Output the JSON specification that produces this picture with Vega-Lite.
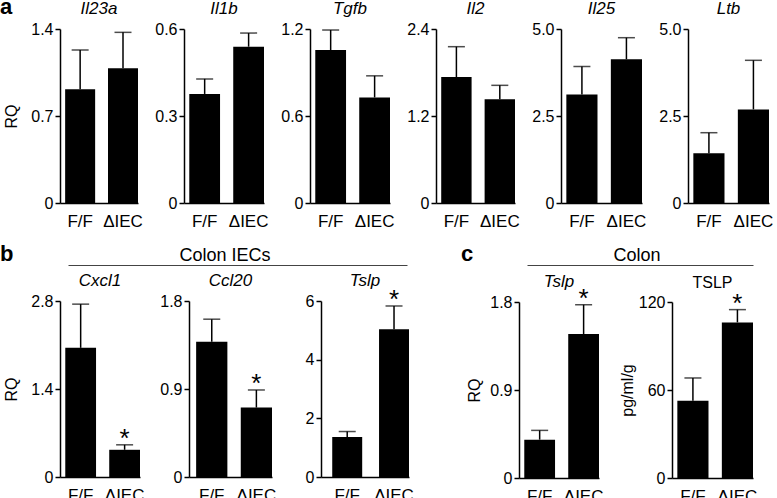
{
 "$schema": "https://vega.github.io/schema/vega-lite/v6.json",
 "padding": {"left": 0, "top": -4, "right": 0, "bottom": 0},
 "background": "white",
 "data": {"values": [
  {"panel":"Il23a","group":"F/F","mean":0.915,"upper":1.231,"star":""},
  {"panel":"Il23a","group":"ΔIEC","mean":1.084,"upper":1.373,"star":""},
  {"panel":"Il1b","group":"F/F","mean":0.376,"upper":0.428,"star":""},
  {"panel":"Il1b","group":"ΔIEC","mean":0.539,"upper":0.586,"star":""},
  {"panel":"Tgfb","group":"F/F","mean":1.055,"upper":1.193,"star":""},
  {"panel":"Tgfb","group":"ΔIEC","mean":0.728,"upper":0.877,"star":""},
  {"panel":"Il2","group":"F/F","mean":1.738,"upper":2.156,"star":""},
  {"panel":"Il2","group":"ΔIEC","mean":1.43,"upper":1.623,"star":""},
  {"panel":"Il25","group":"F/F","mean":3.12,"upper":3.92,"star":""},
  {"panel":"Il25","group":"ΔIEC","mean":4.13,"upper":4.75,"star":""},
  {"panel":"Ltb","group":"F/F","mean":1.43,"upper":2.02,"star":""},
  {"panel":"Ltb","group":"ΔIEC","mean":2.69,"upper":4.1,"star":""},
  {"panel":"Cxcl1","group":"F/F","mean":2.055,"upper":2.75,"star":""},
  {"panel":"Cxcl1","group":"ΔIEC","mean":0.433,"upper":0.512,"star":"*"},
  {"panel":"Ccl20","group":"F/F","mean":1.382,"upper":1.614,"star":""},
  {"panel":"Ccl20","group":"ΔIEC","mean":0.71,"upper":0.89,"star":"*"},
  {"panel":"Tslp_b","group":"F/F","mean":1.36,"upper":1.55,"star":""},
  {"panel":"Tslp_b","group":"ΔIEC","mean":5.04,"upper":5.83,"star":"*"},
  {"panel":"Tslp_c","group":"F/F","mean":0.392,"upper":0.487,"star":""},
  {"panel":"Tslp_c","group":"ΔIEC","mean":1.473,"upper":1.772,"star":"*"},
  {"panel":"TSLP","group":"F/F","mean":52.7,"upper":68.2,"star":""},
  {"panel":"TSLP","group":"ΔIEC","mean":106.1,"upper":114.8,"star":"*"}
 ]},
 "bounds": "full",
 "spacing": 14,
 "vconcat": [
  {
   "bounds": "flush",
   "spacing": 46,
   "title": {"text": "a", "anchor": "start", "fontSize": 22, "fontWeight": "bold", "dx": -60, "dy": 19, "offset": 0},
   "hconcat": [
    {"width":78,"height":174,"title":{"text":"Il23a","fontStyle":"italic"},
     "transform":[{"filter":"datum.panel === 'Il23a'"}],
     "encoding":{"x":{"field":"group","type":"nominal","sort":["F/F","ΔIEC"],"title":null,"scale":{"paddingInner":0.3,"paddingOuter":0.06,"align":1}}},
     "layer":[
      {"mark":"bar","encoding":{"y":{"field":"mean","type":"quantitative","title":"RQ","scale":{"domain":[0,1.4],"nice":false},"axis":{"values":[0,0.7,1.4],"labelExpr":"datum.value === 0 ? '0' : format(datum.value, '.1f')"}}}},
      {"mark":"rule","encoding":{"y":{"field":"mean","type":"quantitative","title":"RQ"},"y2":{"field":"upper"}}},
      {"mark":{"type":"tick","size":17},"encoding":{"y":{"field":"upper","type":"quantitative","title":"RQ"}}}
     ]},
    {"width":80,"height":174,"title":{"text":"Il1b","fontStyle":"italic"},
     "transform":[{"filter":"datum.panel === 'Il1b'"}],
     "encoding":{"x":{"field":"group","type":"nominal","sort":["F/F","ΔIEC"],"title":null,"scale":{"paddingInner":0.3,"paddingOuter":0.06,"align":1}}},
     "layer":[
      {"mark":"bar","encoding":{"y":{"field":"mean","type":"quantitative","title":null,"scale":{"domain":[0,0.6],"nice":false},"axis":{"values":[0,0.3,0.6],"labelExpr":"datum.value === 0 ? '0' : format(datum.value, '.1f')"}}}},
      {"mark":"rule","encoding":{"y":{"field":"mean","type":"quantitative","title":null},"y2":{"field":"upper"}}},
      {"mark":{"type":"tick","size":17},"encoding":{"y":{"field":"upper","type":"quantitative","title":null}}}
     ]},
    {"width":80,"height":174,"title":{"text":"Tgfb","fontStyle":"italic"},
     "transform":[{"filter":"datum.panel === 'Tgfb'"}],
     "encoding":{"x":{"field":"group","type":"nominal","sort":["F/F","ΔIEC"],"title":null,"scale":{"paddingInner":0.3,"paddingOuter":0.06,"align":1}}},
     "layer":[
      {"mark":"bar","encoding":{"y":{"field":"mean","type":"quantitative","title":null,"scale":{"domain":[0,1.2],"nice":false},"axis":{"values":[0,0.6,1.2],"labelExpr":"datum.value === 0 ? '0' : format(datum.value, '.1f')"}}}},
      {"mark":"rule","encoding":{"y":{"field":"mean","type":"quantitative","title":null},"y2":{"field":"upper"}}},
      {"mark":{"type":"tick","size":17},"encoding":{"y":{"field":"upper","type":"quantitative","title":null}}}
     ]},
    {"width":79,"height":174,"title":{"text":"Il2","fontStyle":"italic"},
     "transform":[{"filter":"datum.panel === 'Il2'"}],
     "encoding":{"x":{"field":"group","type":"nominal","sort":["F/F","ΔIEC"],"title":null,"scale":{"paddingInner":0.3,"paddingOuter":0.06,"align":1}}},
     "layer":[
      {"mark":"bar","encoding":{"y":{"field":"mean","type":"quantitative","title":null,"scale":{"domain":[0,2.4],"nice":false},"axis":{"values":[0,1.2,2.4],"labelExpr":"datum.value === 0 ? '0' : format(datum.value, '.1f')"}}}},
      {"mark":"rule","encoding":{"y":{"field":"mean","type":"quantitative","title":null},"y2":{"field":"upper"}}},
      {"mark":{"type":"tick","size":17},"encoding":{"y":{"field":"upper","type":"quantitative","title":null}}}
     ]},
    {"width":81,"height":174,"title":{"text":"Il25","fontStyle":"italic"},
     "transform":[{"filter":"datum.panel === 'Il25'"}],
     "encoding":{"x":{"field":"group","type":"nominal","sort":["F/F","ΔIEC"],"title":null,"scale":{"paddingInner":0.3,"paddingOuter":0.06,"align":1}}},
     "layer":[
      {"mark":"bar","encoding":{"y":{"field":"mean","type":"quantitative","title":null,"scale":{"domain":[0,5],"nice":false},"axis":{"values":[0,2.5,5],"labelExpr":"datum.value === 0 ? '0' : format(datum.value, '.1f')"}}}},
      {"mark":"rule","encoding":{"y":{"field":"mean","type":"quantitative","title":null},"y2":{"field":"upper"}}},
      {"mark":{"type":"tick","size":17},"encoding":{"y":{"field":"upper","type":"quantitative","title":null}}}
     ]},
    {"width":81,"height":174,"title":{"text":"Ltb","fontStyle":"italic"},
     "transform":[{"filter":"datum.panel === 'Ltb'"}],
     "encoding":{"x":{"field":"group","type":"nominal","sort":["F/F","ΔIEC"],"title":null,"scale":{"paddingInner":0.3,"paddingOuter":0.06,"align":1}}},
     "layer":[
      {"mark":"bar","encoding":{"y":{"field":"mean","type":"quantitative","title":null,"scale":{"domain":[0,5],"nice":false},"axis":{"values":[0,2.5,5],"labelExpr":"datum.value === 0 ? '0' : format(datum.value, '.1f')"}}}},
      {"mark":"rule","encoding":{"y":{"field":"mean","type":"quantitative","title":null},"y2":{"field":"upper"}}},
      {"mark":{"type":"tick","size":17},"encoding":{"y":{"field":"upper","type":"quantitative","title":null}}}
     ]}
   ]
  },
  {
   "bounds": "full",
   "spacing": 47,
   "hconcat": [
    {
     "bounds": "full",
     "spacing": 6,
     "vconcat": [
      {"width": 347, "height": 20,
       "title": {"text": "b", "anchor": "start", "fontSize": 22, "fontWeight": "bold", "dx": -60, "dy": 21, "offset": 0},
       "data": {"values": [{"label": "Colon IECs"}]},
       "mark": {"type": "text", "fontSize": 18, "dy": 1},
       "encoding": {
        "x": {"field": "label", "type": "nominal", "title": null, "scale": {"type": "point", "range": [8, 347], "align": 0.463}, "axis": {"labels": false, "ticks": false, "domainWidth": 1, "domainColor": "#444"}},
        "text": {"field": "label"}
       }},
      {
       "bounds": "flush",
       "spacing": 49,
       "hconcat": [
        {"width":80,"height":176,"title":{"text":"Cxcl1","fontStyle":"italic"},
         "transform":[{"filter":"datum.panel === 'Cxcl1'"}],
         "encoding":{"x":{"field":"group","type":"nominal","sort":["F/F","ΔIEC"],"title":null,"scale":{"paddingInner":0.3,"paddingOuter":0.06,"align":1}}},
         "layer":[
          {"mark":"bar","encoding":{"y":{"field":"mean","type":"quantitative","title":"RQ","scale":{"domain":[0,2.8],"nice":false},"axis":{"values":[0,1.4,2.8],"labelExpr":"datum.value === 0 ? '0' : format(datum.value, '.1f')"}}}},
          {"mark":"rule","encoding":{"y":{"field":"mean","type":"quantitative","title":"RQ"},"y2":{"field":"upper"}}},
          {"mark":{"type":"tick","size":17},"encoding":{"y":{"field":"upper","type":"quantitative","title":"RQ"}}},
          {"transform":[{"filter":"datum.star !== ''"}],"mark":{"type":"text","fontSize":26,"baseline":"alphabetic","dy":2},"encoding":{"y":{"field":"upper","type":"quantitative","title":"RQ"},"text":{"field":"star"}}}
         ]},
        {"width":83,"height":176,"title":{"text":"Ccl20","fontStyle":"italic"},
         "transform":[{"filter":"datum.panel === 'Ccl20'"}],
         "encoding":{"x":{"field":"group","type":"nominal","sort":["F/F","ΔIEC"],"title":null,"scale":{"paddingInner":0.3,"paddingOuter":0.08,"align":1}}},
         "layer":[
          {"mark":"bar","encoding":{"y":{"field":"mean","type":"quantitative","title":null,"scale":{"domain":[0,1.8],"nice":false},"axis":{"values":[0,0.9,1.8],"labelExpr":"datum.value === 0 ? '0' : format(datum.value, '.1f')"}}}},
          {"mark":"rule","encoding":{"y":{"field":"mean","type":"quantitative","title":null},"y2":{"field":"upper"}}},
          {"mark":{"type":"tick","size":17},"encoding":{"y":{"field":"upper","type":"quantitative","title":null}}},
          {"transform":[{"filter":"datum.star !== ''"}],"mark":{"type":"text","fontSize":26,"baseline":"alphabetic","dy":2},"encoding":{"y":{"field":"upper","type":"quantitative","title":null},"text":{"field":"star"}}}
         ]},
        {"width":88,"height":176,"title":{"text":"Tslp","fontStyle":"italic","offset":-3},
         "transform":[{"filter":"datum.panel === 'Tslp_b'"}],
         "encoding":{"x":{"field":"group","type":"nominal","sort":["F/F","ΔIEC"],"title":null,"scale":{"paddingInner":0.36,"paddingOuter":0.12,"align":1}}},
         "layer":[
          {"mark":"bar","encoding":{"y":{"field":"mean","type":"quantitative","title":null,"scale":{"domain":[0,6],"nice":false},"axis":{"values":[0,2,4,6]}}}},
          {"mark":"rule","encoding":{"y":{"field":"mean","type":"quantitative","title":null},"y2":{"field":"upper"}}},
          {"mark":{"type":"tick","size":17},"encoding":{"y":{"field":"upper","type":"quantitative","title":null}}},
          {"transform":[{"filter":"datum.star !== ''"}],"mark":{"type":"text","fontSize":26,"baseline":"alphabetic","dy":2},"encoding":{"y":{"field":"upper","type":"quantitative","title":null},"text":{"field":"star"}}}
         ]}
       ]
      }
     ]
    },
    {
     "bounds": "full",
     "spacing": 7,
     "vconcat": [
      {"width": 234, "height": 20,
       "title": {"text": "c", "anchor": "start", "fontSize": 22, "fontWeight": "bold", "dx": -58, "dy": 21, "offset": 0},
       "data": {"values": [{"label": "Colon"}]},
       "mark": {"type": "text", "fontSize": 18, "dy": 1},
       "encoding": {
        "x": {"field": "label", "type": "nominal", "title": null, "scale": {"type": "point", "range": [8, 234], "align": 0.487}, "axis": {"labels": false, "ticks": false, "domainWidth": 1, "domainColor": "#444"}},
        "text": {"field": "label"}
       }},
      {
       "bounds": "flush",
       "spacing": 73,
       "hconcat": [
        {"width":80,"height":176,"title":{"text":"Tslp","fontStyle":"italic","offset":-5},
         "transform":[{"filter":"datum.panel === 'Tslp_c'"}],
         "encoding":{"x":{"field":"group","type":"nominal","sort":["F/F","ΔIEC"],"title":null,"scale":{"paddingInner":0.3,"paddingOuter":0.06,"align":1}}},
         "layer":[
          {"mark":"bar","encoding":{"y":{"field":"mean","type":"quantitative","title":"RQ","scale":{"domain":[0,1.8],"nice":false},"axis":{"values":[0,0.9,1.8],"titlePadding":7,"labelExpr":"datum.value === 0 ? '0' : format(datum.value, '.1f')"}}}},
          {"mark":"rule","encoding":{"y":{"field":"mean","type":"quantitative","title":"RQ"},"y2":{"field":"upper"}}},
          {"mark":{"type":"tick","size":17},"encoding":{"y":{"field":"upper","type":"quantitative","title":"RQ"}}},
          {"transform":[{"filter":"datum.star !== ''"}],"mark":{"type":"text","fontSize":26,"baseline":"alphabetic","dy":2},"encoding":{"y":{"field":"upper","type":"quantitative","title":"RQ"},"text":{"field":"star"}}}
         ]},
        {"width":81,"height":176,"title":{"text":"TSLP","offset":0,"fontSize":16},
         "transform":[{"filter":"datum.panel === 'TSLP'"}],
         "encoding":{"x":{"field":"group","type":"nominal","sort":["F/F","ΔIEC"],"title":null,"scale":{"paddingInner":0.3,"paddingOuter":0.06,"align":1}}},
         "layer":[
          {"mark":"bar","encoding":{"y":{"field":"mean","type":"quantitative","title":"pg/ml/g","scale":{"domain":[0,120],"nice":false},"axis":{"values":[0,60,120],"titlePadding":3}}}},
          {"mark":"rule","encoding":{"y":{"field":"mean","type":"quantitative","title":"pg/ml/g"},"y2":{"field":"upper"}}},
          {"mark":{"type":"tick","size":17},"encoding":{"y":{"field":"upper","type":"quantitative","title":"pg/ml/g"}}},
          {"transform":[{"filter":"datum.star !== ''"}],"mark":{"type":"text","fontSize":26,"baseline":"alphabetic","dy":2},"encoding":{"y":{"field":"upper","type":"quantitative","title":"pg/ml/g"},"text":{"field":"star"}}}
         ]}
       ]
      }
     ]
    }
   ]
  }
 ],
 "config": {
  "font": "Liberation Sans",
  "view": {"stroke": null},
  "bar": {"color": "black"},
  "rule": {"color": "black", "strokeWidth": 1.5},
  "tick": {"color": "black", "thickness": 1.5},
  "text": {"color": "black", "font": "Liberation Sans"},
  "axis": {"grid": false, "domainColor": "black", "domainWidth": 1.5, "tickColor": "black", "tickWidth": 1.5, "labelColor": "black", "labelFont": "Liberation Sans", "labelFontSize": 16, "titleFont": "Liberation Sans", "titleColor": "black", "titleFontSize": 16, "titleFontWeight": "normal"},
  "axisX": {"ticks": false, "labelAngle": 0, "labelPadding": 10, "labelFontSize": 17},
  "axisY": {"tickSize": 5, "labelPadding": 2, "titlePadding": 11},
  "title": {"font": "Liberation Sans", "fontSize": 17, "fontWeight": "normal", "color": "black", "frame": "group", "offset": 3}
 }
}
